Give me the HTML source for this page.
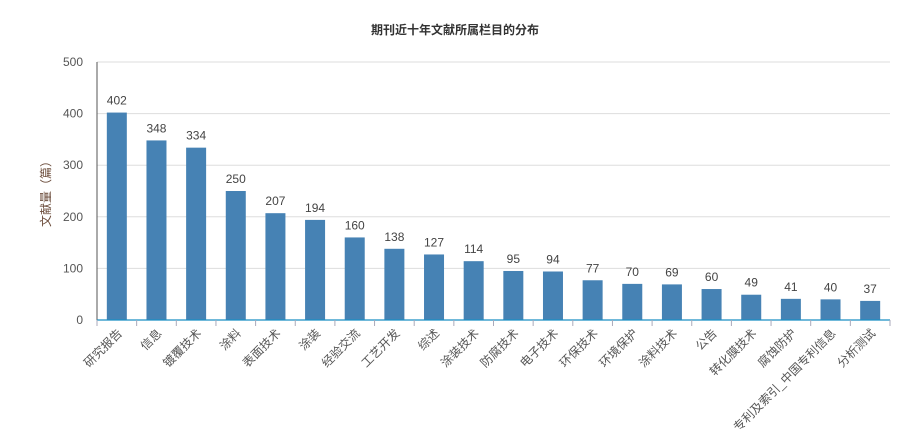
<!DOCTYPE html>
<html><head><meta charset="utf-8"><style>
body{margin:0;background:#fff;}
svg{display:block;font-family:"Liberation Sans","Noto Sans CJK SC",sans-serif;}
</style></head><body>
<svg id="chart" width="911" height="445">
<text x="455" y="34" text-anchor="middle" font-size="12" font-weight="bold" fill="#333">期刊近十年文献所属栏目的分布</text>
<text transform="translate(50,191) rotate(-90)" text-anchor="middle" font-size="12" fill="#6b4c3b">文献量（篇）</text>
<g id="grid"></g><g id="bars"></g><g id="axes"></g>
</svg>
<script>
const categories=["研究报告","信息","镀覆技术","涂料","表面技术","涂装","经验交流","工艺开发","综述","涂装技术","防腐技术","电子技术","环保技术","环境保护","涂料技术","公告","转化膜技术","腐蚀防护","专利及索引_中国专利信息","分析测试"];
const values=[402,348,334,250,207,194,160,138,127,114,95,94,77,70,69,60,49,41,40,37];
const yTicks=[0,100,200,300,400,500];
const NS="http://www.w3.org/2000/svg";
const x0=97,x1=890,y0=320,yTop=62,slots=20;
const band=(x1-x0)/slots;
const y=v=>y0-(v/500)*(y0-yTop);
const xc=i=>x0+band*(i+0.5);
function mk(t,a,p){const e=document.createElementNS(NS,t);for(const k in a)e.setAttribute(k,a[k]);p.appendChild(e);return e;}
const grid=document.getElementById('grid'),bars=document.getElementById('bars'),axes=document.getElementById('axes');
yTicks.forEach(t=>{
 if(t>0){const l=mk('line',{x1:x0,x2:x1,y1:y(t),y2:y(t),stroke:'#ddd'},grid);
 
 }
 const tx=mk('text',{x:x0-14,y:y(t)+4,'text-anchor':'end','font-size':12,fill:'#555'},axes);tx.textContent=t;
 
 
});
const yl=mk('line',{x1:x0,x2:x0,y1:yTop,y2:y0,stroke:'#555'},axes);


const xl=mk('line',{x1:x0,x2:x1,y1:y0,y2:y0,stroke:'#1a8fc4','stroke-width':1.2},axes);


for(let i=0;i<=slots;i++){const tk=mk('line',{x1:x0+band*i,x2:x0+band*i,y1:y0,y2:y0+6,stroke:'#aab'},axes);
 
 }
categories.forEach((c,i)=>{
 const v=values[i];
 const r=mk('rect',{x:xc(i)-10,y:y(v),width:20,height:y0-y(v),fill:'#4682b4'},bars);
 
 
 const vl=mk('text',{x:xc(i),y:y(v)-8,'text-anchor':'middle','font-size':12,fill:'#444'},bars);vl.textContent=v;
 
 
 const lb=mk('text',{transform:`translate(${xc(i)+6},${y0+14}) rotate(-45)`,'text-anchor':'end','font-size':12,fill:'#555'},axes);lb.textContent=c;
 
 
});
</script>
</body></html>
